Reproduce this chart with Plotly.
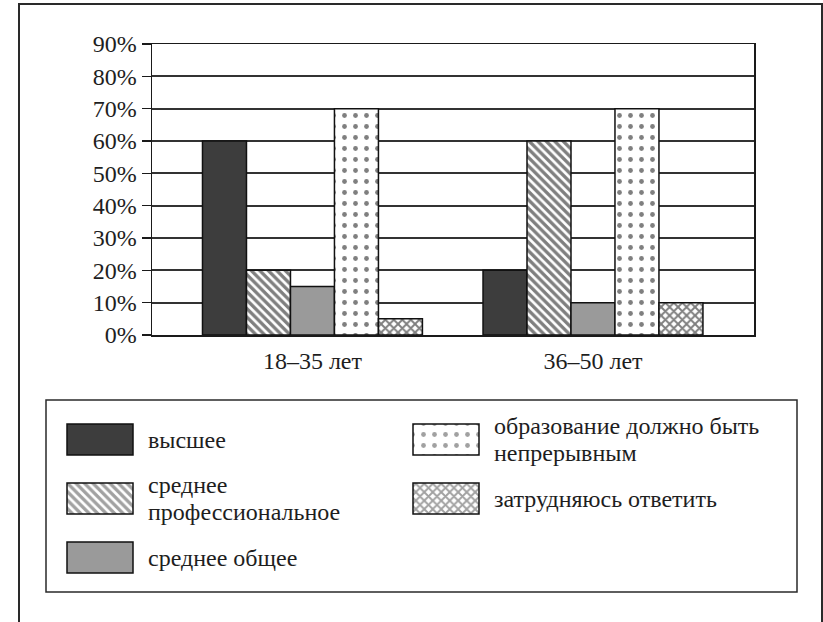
import plotly.graph_objects as go

# ---------------- data ----------------
groups = ["18–35 лет", "36–50 лет"]
series_names = [
    "высшее",
    "среднее профессиональное",
    "среднее общее",
    "образование должно быть непрерывным",
    "затрудняюсь ответить",
]
vysshee = [60, 20]
srednee_prof = [20, 60]
srednee_obshee = [15, 10]
nepreryvnoe = [70, 70]
zatrudnyayus = [5, 10]
y_tick_values = [0, 10, 20, 30, 40, 50, 60, 70, 80, 90]
y_tick_labels = [f"{v}%" for v in y_tick_values]

series_values = [vysshee, srednee_prof, srednee_obshee, nepreryvnoe, zatrudnyayus]

# ---------------- styles ----------------
W, H = 823, 622
FONT = "Liberation Serif"
TXT = "#1e1e1e"
FS_AX = 24
FS_LEG = 24
styles = [
    dict(color="#3d3d3d", pattern=dict(shape="")),
    dict(color="white", pattern=dict(shape="\\", fgcolor="#000000", bgcolor="white", size=6, solidity=0.55)),
    dict(color="#9a9a9a", pattern=dict(shape="")),
    dict(color="white", pattern=dict(shape=".", fgcolor="#000000", bgcolor="white", size=11, solidity=0.15)),
    dict(color="white", pattern=dict(shape="x", fgcolor="#000000", bgcolor="white", size=6, solidity=0.55)),
]

# plot area in pixels
PL, PR, PT, PB = 152, 754, 44, 335
x_pos = list(range(len(groups)))

fig = go.Figure()
for name, vals, st in zip(series_names, series_values, styles):
    fig.add_trace(go.Bar(
        x=x_pos, y=vals, name=name, showlegend=False,
        marker=dict(color=st["color"], pattern=st["pattern"],
                    line=dict(color="#111111", width=1.5)),
        xaxis="x", yaxis="y",
    ))

# ---------------- legend (drawn on a pixel-scaled helper axis) ----------------
col_x = [67, 413]
sw_w, sw_h = 66, 31
row_top = [424, 483, 542]
legend_layout = [(0, 0), (0, 1), (0, 2), (1, 0), (1, 1)]  # (column, row) per series
legend_lines = [
    ["высшее"],
    ["среднее", "профессиональное"],
    ["среднее общее"],
    ["образование должно быть", "непрерывным"],
    ["затрудняюсь ответить"],
]
line_gap = 27

sw_x, sw_base, sw_col, sw_shape, sw_fg, sw_size, sw_sol = [], [], [], [], [], [], []
for (c, r), st in zip(legend_layout, styles):
    sw_x.append(col_x[c] + sw_w / 2)
    sw_base.append(row_top[r])
    sw_col.append(st["color"])
    p = st["pattern"]
    sw_shape.append(p.get("shape", ""))
    sw_fg.append(p.get("fgcolor", "#111111"))
    sw_size.append(p.get("size", 8))
    sw_sol.append(p.get("solidity", 0.3))

fig.add_trace(go.Bar(
    x=sw_x, y=[sw_h] * len(sw_x), base=sw_base, width=sw_w, offset=-sw_w / 2,
    marker=dict(color=sw_col,
                pattern=dict(shape=sw_shape, fgcolor=sw_fg, bgcolor="white",
                             size=sw_size, solidity=sw_sol),
                line=dict(color="#111111", width=1.5)),
    xaxis="x2", yaxis="y2", showlegend=False, hoverinfo="skip",
))

annotations = []
for (c, r), lines in zip(legend_layout, legend_lines):
    cy = row_top[r] + sw_h / 2
    n = len(lines)
    for i, ln in enumerate(lines):
        y = cy + (i - (n - 1) / 2) * line_gap
        annotations.append(dict(
            x=col_x[c] + sw_w + 14, y=y, xref="x2", yref="y2", text=ln,
            showarrow=False, xanchor="left", yanchor="middle", borderpad=0,
            font=dict(family=FONT, size=FS_LEG, color=TXT),
        ))

shapes = [
    # outer frame
    dict(type="rect", xref="x2", yref="y2", x0=19, x1=822, y0=4, y1=640,
         line=dict(color="#2a2a2a", width=2), fillcolor="rgba(0,0,0,0)", layer="below"),
    # legend box
    dict(type="rect", xref="x2", yref="y2", x0=46, x1=797, y0=400, y1=592,
         line=dict(color="#2a2a2a", width=1.5), fillcolor="rgba(0,0,0,0)", layer="below"),
]

fig.update_layout(
    width=W, height=H,
    margin=dict(l=0, r=0, t=0, b=0),
    paper_bgcolor="white", plot_bgcolor="rgba(0,0,0,0)",
    barmode="group", bargap=0.216, bargroupgap=0,
    showlegend=False,
    font=dict(family=FONT, size=FS_AX, color=TXT),
    xaxis=dict(
        domain=[PL / W, PR / W], range=[-0.572, 1.574], anchor="y",
        tickmode="array", tickvals=x_pos, ticktext=groups,
        ticks="", showgrid=False, zeroline=False, ticklabelstandoff=4,
        showline=True, linecolor="#1a1a1a", linewidth=1.5, mirror=True,
        tickfont=dict(family=FONT, size=FS_AX, color=TXT), automargin=False,
        fixedrange=True,
    ),
    yaxis=dict(
        domain=[(H - PB) / H, (H - PT) / H], range=[0, 90], anchor="x",
        tickmode="array", tickvals=y_tick_values, ticktext=y_tick_labels,
        ticks="outside", ticklen=9, tickwidth=1.5, tickcolor="#1a1a1a",
        showgrid=True, gridcolor="#333333", gridwidth=2, zeroline=False,
        showline=True, linecolor="#1a1a1a", linewidth=1.5, mirror=True,
        tickfont=dict(family=FONT, size=FS_AX, color=TXT), automargin=False,
        fixedrange=True,
    ),
    xaxis2=dict(domain=[0, 1], range=[0, W], anchor="y2", visible=False, fixedrange=True),
    yaxis2=dict(domain=[0, 1], range=[H, 0], anchor="x2", visible=False, fixedrange=True),
    shapes=shapes,
    annotations=annotations,
)

fig.write_html(
    "out.html",
    config={"displayModeBar": False, "staticPlot": True},
    post_script="document.body.style.margin='0';document.body.style.overflow='hidden';",
)
